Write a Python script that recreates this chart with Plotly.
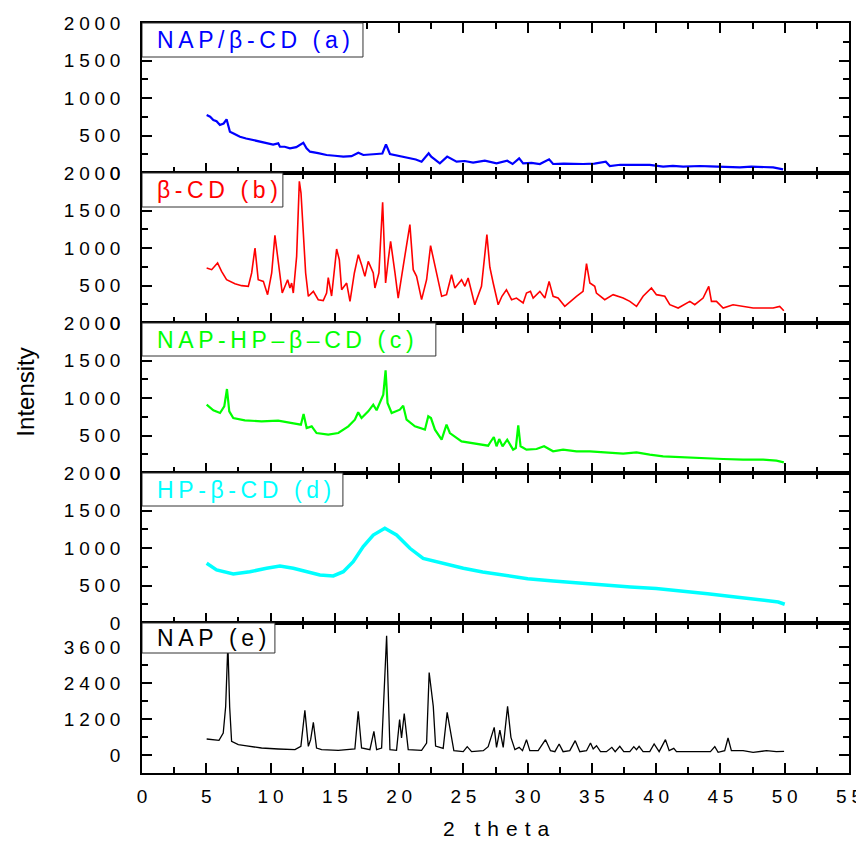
import plotly.graph_objects as go

# ---------------- data ----------------
x_a = [5.03, 5.3, 5.55, 5.8, 6.06, 6.35, 6.58, 6.84, 7.2, 7.62, 8.1, 8.65, 9.2, 9.69, 10.2, 10.6, 10.73,
       11.1, 11.51, 12.0, 12.55, 12.8, 13.07, 13.7, 14.36, 15.0, 15.66, 16.3, 16.83, 17.22, 17.7, 18.25,
       18.7, 18.98, 19.29, 20.0, 20.85, 21.3, 21.75, 22.3, 22.5, 22.8, 23.17, 23.74, 24.47, 25.1, 25.76,
       26.67, 27.58, 28.41, 28.83, 29.34, 29.65, 30.3, 30.95, 31.67, 31.98, 32.8, 33.54, 34.32, 35.2,
       36.08, 36.39, 37.2, 37.95, 38.7, 39.5, 40.54, 41.3, 42.1, 43.39, 44.2, 44.95, 45.7, 46.51, 47.4,
       48.32, 49.1, 49.87]
y_a = [773, 750, 707, 690, 640, 660, 716, 551, 520, 484, 460, 440, 415, 396, 380, 395, 351,
       350, 329, 345, 404, 330, 284, 265, 240, 230, 218, 225, 271, 240, 250, 253,
       260, 382, 253, 225, 196, 180, 151, 262, 218, 180, 129, 218, 151, 160, 138,
       164, 129, 164, 120, 196, 129, 135, 120, 182, 120, 125, 120, 120, 125,
       151, 93, 110, 107, 110, 107, 84, 95, 84, 93, 88, 84, 80, 76, 85,
       84, 75, 49]

x_b = [5.03, 5.42, 5.88, 6.19, 6.58, 7.23, 7.75, 8.27, 8.53, 8.79, 9.04, 9.44, 9.77, 10.09, 10.34, 10.6,
       10.91, 11.33, 11.51, 11.64, 11.77, 12.03, 12.24, 12.37, 12.55, 12.73, 12.94, 13.33, 13.71, 14.1,
       14.36, 14.49, 14.75, 14.96, 15.14, 15.35, 15.53, 15.92, 16.18, 16.52, 16.83, 17.08, 17.34, 17.6,
       17.99, 18.12, 18.43, 18.72, 18.95, 19.16, 19.34, 19.68, 19.93, 20.32, 20.63, 20.84, 21.1, 21.36,
       21.75, 22.14, 22.45, 22.79, 23.31, 23.69, 24.08, 24.34, 24.86, 25.12, 25.37, 25.89, 26.41, 26.83,
       27.06, 27.32, 27.71, 28.0, 28.35, 28.75, 29.13, 29.65, 29.91, 30.22, 30.43, 30.95, 31.34, 31.67,
       31.98, 32.37, 32.89, 33.8, 34.31, 34.58, 34.84, 35.22, 35.35, 36.0, 36.65, 37.43, 37.95, 38.47,
       38.98, 39.63, 40.02, 40.67, 41.06, 41.71, 42.62, 43.0, 43.65, 44.09, 44.3, 44.69, 45.21, 45.98,
       46.76, 47.54, 48.32, 49.1, 49.61, 49.93]
y_b = [733, 711, 800, 689, 577, 524, 498, 489, 667, 1000, 577, 555, 378, 667, 1169, 800,
       400, 577, 467, 533, 400, 889, 1889, 1733, 1111, 667, 356, 422, 311, 300,
       400, 604, 360, 667, 987, 844, 444, 533, 289, 667, 911, 778, 622, 822,
       667, 467, 667, 1609, 533, 844, 1089, 667, 333, 756, 1089, 1311, 711, 622,
       311, 577, 1031, 756, 356, 378, 644, 467, 577, 489, 600, 244, 489, 1178,
       744, 533, 244, 356, 444, 311, 333, 267, 400, 422, 333, 422, 333, 555,
       356, 333, 222, 356, 422, 791, 533, 489, 400, 311, 378, 333, 289, 222,
       356, 467, 378, 356, 244, 200, 289, 244, 333, 489, 289, 289, 200, 244,
       222, 200, 200, 200, 222, 164]

x_c = [5.03, 5.55, 6.07, 6.4, 6.61, 6.79, 7.1, 8.0, 9.3, 10.59, 11.9, 12.36, 12.57, 12.81, 13.2, 13.58,
       14.49, 15.27, 16.05, 16.56, 16.82, 17.08, 17.6, 17.99, 18.25, 18.51, 18.77, 18.95, 19.1, 19.42,
       19.8, 20.06, 20.32, 20.58, 21.23, 22.01, 22.27, 22.48, 22.79, 23.31, 23.69, 23.95, 24.86, 25.63,
       26.41, 26.93, 27.06, 27.37, 27.58, 27.79, 28.05, 28.41, 28.87, 29.08, 29.27, 29.45, 29.91, 30.69,
       31.28, 31.98, 32.76, 33.8, 34.84, 35.87, 37.43, 38.47, 39.5, 40.54, 41.58, 42.62, 43.65, 45.21,
       46.76, 48.32, 49.35, 49.93]
y_c = [911, 836, 800, 889, 1120, 822, 733, 702, 689, 698, 658, 644, 787, 600, 622, 533,
       511, 533, 622, 711, 809, 733, 822, 911, 836, 933, 1044, 1369, 933, 800,
       822, 844, 898, 711, 622, 578, 756, 733, 578, 444, 644, 533, 422, 400,
       378, 364, 400, 480, 356, 453, 356, 444, 311, 333, 636, 356, 311, 320,
       356, 289, 311, 289, 289, 276, 258, 276, 244, 222, 213, 200, 200, 187,
       178, 178, 164, 142]

x_d = [5.03, 5.8, 7.1, 8.39, 9.69, 10.73, 11.77, 12.8, 13.84, 14.88, 15.66, 16.43, 17.21, 17.99, 18.89,
       19.8, 20.84, 21.87, 22.4, 23.5, 25.0, 26.5, 28.0, 30.0, 32.0, 34.0, 36.0, 38.0, 40.0, 42.0, 44.0,
       46.0, 48.0, 49.5, 50.0]
y_d = [796, 707, 653, 684, 729, 760, 729, 684, 640, 627, 684, 818, 1018, 1173, 1262,
       1173, 996, 862, 840, 790, 730, 680, 640, 590, 560, 530, 510, 480, 460, 430, 390,
       350, 310, 280, 250]

x_e = [5.03, 5.68, 5.99, 6.32, 6.51, 6.68, 6.82, 6.97, 7.49, 8.01, 9.3, 10.6, 11.9, 12.36, 12.67, 12.94,
       13.12, 13.33, 13.58, 13.97, 15.27, 16.56, 16.82, 17.08, 17.73, 18.04, 18.25, 18.64, 19.03, 19.29,
       19.8, 20.04, 20.19, 20.4, 20.71, 21.75, 22.14, 22.34, 22.53, 22.66, 22.84, 23.18, 23.43, 23.74,
       23.95, 24.26, 24.99, 25.3, 25.64, 26.55, 26.93, 27.14, 27.4, 27.58, 27.84, 28.1, 28.44, 28.7,
       29.01, 29.34, 29.6, 29.91, 30.17, 30.82, 31.39, 31.78, 32.12, 32.45, 32.76, 33.28, 33.7, 34.06,
       34.58, 34.89, 35.1, 35.36, 35.67, 36.13, 36.55, 36.81, 37.17, 37.48, 37.95, 38.26, 38.47, 38.67,
       38.98, 39.5, 39.84, 40.23, 40.72, 41.01, 41.37, 41.58, 42.62, 43.65, 44.22, 44.56, 44.82, 45.33,
       45.59, 45.85, 46.76, 47.54, 48.58, 49.35, 49.95]
y_e = [533, 511, 489, 733, 1622, 3700, 1600, 456, 344, 311, 233, 200, 178, 289, 1489, 289,
       511, 1089, 233, 178, 156, 200, 1456, 233, 178, 789, 178, 233, 3978, 178,
       156, 1178, 567, 1378, 178, 156, 400, 2750, 2060, 1622, 300, 267, 220, 1420,
       910, 144, 111, 278, 111, 144, 278, 533, 922, 256, 833, 256, 1622, 589,
       178, 256, 144, 511, 144, 144, 511, 144, 111, 367, 111, 144, 478, 111,
       144, 400, 200, 311, 111, 111, 256, 111, 289, 111, 111, 278, 178, 289,
       111, 111, 367, 111, 511, 144, 222, 111, 111, 111, 111, 278, 89, 144,
       567, 144, 144, 89, 144, 111, 122]

series = [
    (x_a, y_a, "#0000FF", 2.2),
    (x_b, y_b, "#FF0000", 1.6),
    (x_c, y_c, "#00FF00", 2.2),
    (x_d, y_d, "#00FFFF", 3.5),
    (x_e, y_e, "#000000", 1.3),
]
panel_labels = ["NAP/β-CD (a)", "β-CD (b)", "NAP-HP–β–CD (c)", "HP-β-CD (d)", "NAP (e)"]
label_colors = ["#0000FF", "#FF0000", "#00FF00", "#00FFFF", "#000000"]
label_box_right = [17.19, 10.96, 22.86, 15.63, 10.34]     # box right edge (x units)
label_box_h = [34, 34, 33, 33, 30]                        # box height (px)

y_ranges = [[0, 2000]] * 4 + [[-600, 4400]]
y_major = [[0, 500, 1000, 1500, 2000]] * 4 + [[0, 1200, 2400, 3600]]
y_minor = [[250, 750, 1250, 1750]] * 4 + [[-600, 600, 1800, 3000, 4200]]
x_major = list(range(0, 60, 5))
x_minor = [2.5 + 5 * i for i in range(11)]

SP = "\u2005"   # spacing used to imitate the wide letter spacing of the ticks
SPT = "\u2004"  # spacing for the x title
TS = "\u2009"   # spacing for the panel labels


def spaced(s, sep):
    return sep.join(list(s))


FONT = "Liberation Sans, Arial, sans-serif"
TICKSIZE = 19
fig = go.Figure()
panel_h_px = 150

for i, (xs, ys, col, w) in enumerate(series):
    n = "" if i == 0 else str(i + 1)
    fig.add_trace(go.Scatter(x=xs, y=ys, mode="lines", line=dict(color=col, width=w),
                             xaxis="x" + n, yaxis="y" + n, showlegend=False, hoverinfo="skip"))
    top = 1 - i * 0.2
    bot = 1 - (i + 1) * 0.2
    fig.layout["xaxis" + n] = dict(
        domain=[0, 1], anchor="y" + n, range=[0, 55], tickmode="array", tickvals=x_major,
        ticktext=[spaced(str(v), SP) for v in x_major],
        showticklabels=(i == 4), ticks="inside", ticklen=10, tickwidth=2, tickcolor="black",
        minor=dict(tickmode="array", tickvals=x_minor, ticks="inside", ticklen=6, tickwidth=2,
                   tickcolor="black"),
        showline=True, linecolor="black", linewidth=1.6, mirror="ticks", showgrid=False,
        zeroline=False, tickfont=dict(family=FONT, size=TICKSIZE, color="black"),
        ticklabelstandoff=5, automargin=False,
    )
    fig.layout["yaxis" + n] = dict(
        domain=[bot, top], anchor="x" + n, range=y_ranges[i], tickmode="array",
        tickvals=y_major[i], ticktext=[spaced(str(v), SP) for v in y_major[i]],
        ticks="inside", ticklen=10, tickwidth=2, tickcolor="black",
        minor=dict(tickmode="array", tickvals=y_minor[i], ticks="inside", ticklen=6, tickwidth=2,
                   tickcolor="black"),
        showline=True, linecolor="black", linewidth=1.6, mirror="ticks", showgrid=False,
        zeroline=False, tickfont=dict(family=FONT, size=TICKSIZE, color="black"),
        ticklabelstandoff=16, automargin=False,
    )
    # label box
    fig.add_shape(type="rect", xref="x" + n, yref="y" + n + " domain", x0=0, x1=label_box_right[i],
                  y0=1 - label_box_h[i] / panel_h_px, y1=1, fillcolor="white",
                  line=dict(color="#333333", width=1), layer="above")
    fig.add_annotation(xref="x" + n, yref="y" + n + " domain", x=1.0,
                       y=1 - label_box_h[i] / 2 / panel_h_px, xanchor="left", yanchor="middle",
                       text=spaced(panel_labels[i], TS), showarrow=False,
                       font=dict(family=FONT, size=23, color=label_colors[i]))

# axis titles
fig.add_annotation(xref="paper", yref="paper", x=-0.166, y=0.508, text="Intensity", textangle=-90,
                   showarrow=False, font=dict(family=FONT, size=24, color="black"),
                   xanchor="center", yanchor="middle")
fig.add_annotation(xref="paper", yref="paper", x=0.502, y=-0.074, text=spaced("2 theta", SPT),
                   showarrow=False, font=dict(family=FONT, size=21, color="black"),
                   xanchor="center", yanchor="middle")

# the page puts the figure 8 px in from the corner, so margins are shifted by 8 px
fig.update_layout(width=864, height=841, margin=dict(l=134, r=23, t=15, b=76, autoexpand=False),
                  paper_bgcolor="white", plot_bgcolor="white", font=dict(family=FONT))
fig.write_html("out.html")
